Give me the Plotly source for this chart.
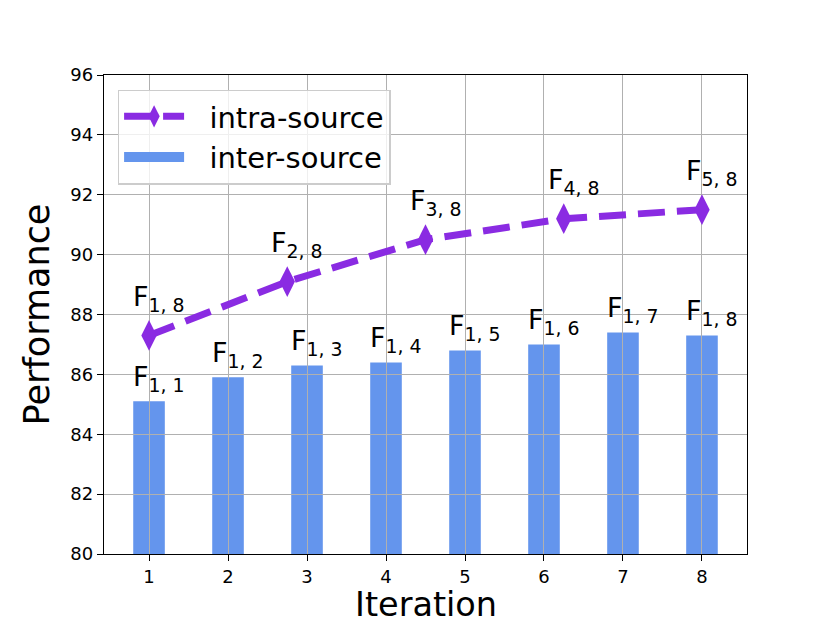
import plotly.graph_objects as go

# ---- data ----
iterations = [1, 2, 3, 4, 5, 6, 7, 8]
inter_values = [85.1, 85.9, 86.3, 86.4, 86.8, 87.0, 87.4, 87.3]
inter_labels = ["F<sub>1, 1</sub>", "F<sub>1, 2</sub>", "F<sub>1, 3</sub>", "F<sub>1, 4</sub>",
                "F<sub>1, 5</sub>", "F<sub>1, 6</sub>", "F<sub>1, 7</sub>", "F<sub>1, 8</sub>"]
intra_x = [1, 2.75, 4.5, 6.25, 8]
intra_values = [87.3, 89.1, 90.5, 91.2, 91.5]
intra_labels = ["F<sub>1, 8</sub>", "F<sub>2, 8</sub>", "F<sub>3, 8</sub>", "F<sub>4, 8</sub>", "F<sub>5, 8</sub>"]
y_ticks = [80, 82, 84, 86, 88, 90, 92, 94, 96]

FONT = "DejaVu Sans"
PURPLE = "#8A2BE2"
BLUE = "#6495ED"
PAD = "\u2002\u2009"

fig = go.Figure()

fig.add_trace(go.Scatter(
    x=intra_x, y=intra_values, name=PAD + "intra-source",
    mode="lines+markers", xaxis="x2", yaxis="y2",
    line=dict(color=PURPLE, width=7, dash="27px,12px"),
    marker=dict(symbol="diamond-tall", size=22, color=PURPLE, line=dict(width=0)),
))
# legend entry for the bars (wide rectangle swatch)
fig.add_trace(go.Scatter(
    x=[None], y=[None], name=PAD + "inter-source", mode="lines",
    xaxis="x2", yaxis="y2", legendgroup="inter",
    line=dict(color=BLUE, width=20),
))
fig.add_trace(go.Bar(
    x=iterations, y=inter_values, name="inter-source", showlegend=False,
    legendgroup="inter",
    width=0.4, marker=dict(color=BLUE, line=dict(width=0)),
    base=0, xaxis="x", yaxis="y",
))

annotations = []
for xi, yi, t in zip(iterations, inter_values, inter_labels):
    annotations.append(dict(x=xi, y=yi + 0.5, xref="x2", yref="y2", text=t, showarrow=False,
                            xanchor="left", yanchor="bottom", xshift=-18, yshift=-12,
                            font=dict(family=FONT, size=27, color="black")))
for xi, yi, t in zip(intra_x, intra_values, intra_labels):
    annotations.append(dict(x=xi, y=yi + 1.0, xref="x2", yref="y2", text=t, showarrow=False,
                            xanchor="left", yanchor="bottom", xshift=-18, yshift=-12,
                            font=dict(family=FONT, size=27, color="black")))
# x-axis title
annotations.append(dict(x=0.5, y=0, xref="paper", yref="paper", text="Iteration", showarrow=False,
                        xanchor="center", yanchor="top", yshift=-30, borderpad=0,
                        font=dict(family=FONT, size=33.5, color="black")))

xrange_ = [0.43, 8.57]
yrange_ = [80, 96]

fig.update_layout(
    width=830, height=623,
    margin=dict(l=104, r=83, t=75, b=69, autoexpand=False),
    paper_bgcolor="white", plot_bgcolor="rgba(0,0,0,0)",
    font=dict(family=FONT, color="black"),
    showlegend=True,
    legend=dict(x=0.0213, y=0.9695, xanchor="left", yanchor="top",
                bgcolor="rgba(255,255,255,0.8)", bordercolor="#cccccc", borderwidth=1.4,
                font=dict(family=FONT, size=29, color="black"), itemwidth=60,
                traceorder="normal"),
    xaxis=dict(domain=[0, 1], range=xrange_, visible=False, fixedrange=True),
    yaxis=dict(domain=[0, 1], range=yrange_, visible=False, fixedrange=True),
    xaxis2=dict(domain=[0, 1], anchor="y2", range=xrange_,
                tickmode="array", tickvals=iterations, ticktext=[str(v) for v in iterations],
                showgrid=True, gridcolor="#b0b0b0", gridwidth=1.4,
                showline=True, mirror=True, linecolor="black", linewidth=1.4,
                ticks="outside", ticklen=6, tickwidth=1.4, tickcolor="black",
                tickfont=dict(family=FONT, size=18, color="black"),
                zeroline=False),
    yaxis2=dict(domain=[0, 1], anchor="x2", range=yrange_,
                tickmode="array", tickvals=y_ticks, ticktext=[str(v) for v in y_ticks],
                showgrid=True, gridcolor="#b0b0b0", gridwidth=1.4,
                showline=True, mirror=True, linecolor="black", linewidth=1.4,
                ticks="outside", ticklen=6, tickwidth=1.4, tickcolor="black",
                tickfont=dict(family=FONT, size=18, color="black"),
                title=dict(text="Performance", font=dict(family=FONT, size=35, color="black"), standoff=10),
                zeroline=False),
    annotations=annotations,
)

fig.write_html("out.html", config={"displayModeBar": False},
               post_script="document.body.style.margin='0px';")
